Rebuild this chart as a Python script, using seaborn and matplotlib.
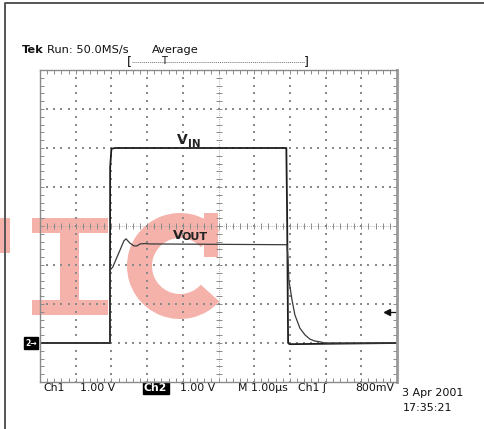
import numpy as np
import pandas as pd
import matplotlib
matplotlib.use("Agg")
import matplotlib.pyplot as plt
from matplotlib.patches import Rectangle, Wedge
import seaborn as sns

# ---------------- data (time in µs / divisions, volts) ----------------
vin_t = [0.0, 1.96, 1.965, 2.0, 2.1, 6.90, 6.92, 6.95, 6.99, 10.0]
vin_v = [0.0, 0.0, 4.5, 4.98, 5.0, 5.0, 3.5, 0.0, -0.03, 0.0]

vout_t = [0.0, 1.96, 1.965, 2.04, 2.10, 2.24, 2.35, 2.41, 2.52, 2.63, 2.72,
          2.80, 2.94, 3.08, 5.0, 6.92, 6.95, 6.97, 7.06, 7.14, 7.28, 7.42,
          7.56, 7.70, 7.84, 7.98, 10.0]
vout_v = [0.0, 0.0, 1.87, 1.95, 2.08, 2.38, 2.62, 2.67, 2.56, 2.49, 2.49,
          2.54, 2.55, 2.54, 2.53, 2.52, 2.10, 1.62, 1.10, 0.72, 0.38, 0.21,
          0.10, 0.05, 0.03, 0.0, 0.0]

ground_div = 1.0          # channel ground marker position (divisions)
trigger_level_v = 0.8     # Ch1 trigger level, volts (1 V/div)

header_labels = ["Tek", "Run: 50.0MS/s", "Average"]
footer_labels = ["Ch1", "1.00 V", "Ch2", "1.00 V", "M 1.00µs", "Ch1 \u0283", "800mV"]
date_labels = ["3 Apr 2001", "17:35:21"]

# ---------------- figure ----------------
sns.set_theme(style="white")
plt.rcParams["font.family"] = ["DejaVu Sans"]
W, H = 484, 429
fig = plt.figure(figsize=(W / 100, H / 100), dpi=100)

# background overlay in pixel coords
bg = fig.add_axes([0, 0, 1, 1], zorder=0)
bg.set_xlim(0, W)
bg.set_ylim(H, 0)
bg.axis("off")

# watermark
wm = "#F5B2AA"
for (x0, y0, w, h) in [(0, 218, 10, 35), (32, 218, 76, 15), (60, 218, 19, 97), (32, 300, 76, 15)]:
    bg.add_patch(Rectangle((x0, y0), w, h, color=wm, lw=0))
bg.add_patch(Wedge((180, 266), 53, 42, 318, width=25, color=wm, lw=0))
bg.add_patch(Rectangle((204, 213), 14, 44, color=wm, lw=0))

# outer frame
bg.plot([5, 5, W], [H, 3, 3], color="#555555", lw=1.4, solid_capstyle="butt")

# main graticule axes
left, right, top, bottom = 40, 397, 70, 382
ax = fig.add_axes([left / W, 1 - bottom / H, (right - left) / W, (bottom - top) / H], zorder=1)
ax.set_facecolor("none")
ax.set_xlim(0, 10)
ax.set_ylim(0, 8)

gcol = "#8a8a8a"
# dotted grid
sub = np.arange(0, 10.001, 0.2)
subv = np.arange(0, 8.001, 0.2)
for xv in range(1, 10):
    if xv == 5:
        continue
    ax.scatter(np.full_like(subv, xv), subv, s=1.0, marker="s", color=gcol, lw=0)
for yv in range(1, 8):
    if yv == 4:
        continue
    ax.scatter(sub, np.full_like(sub, yv), s=1.0, marker="s", color=gcol, lw=0)
# centre cross
ax.axvline(5, color="#a0a0a0", lw=0.6, ls=(0, (1, 1.5)))
ax.axhline(4, color="#a0a0a0", lw=0.6, ls=(0, (1, 1.5)))
ax.plot(np.full_like(subv, 5), subv, ls="none", marker="_", ms=5, mew=0.7, color=gcol)
ax.plot(sub, np.full_like(sub, 4), ls="none", marker="|", ms=5, mew=0.7, color=gcol)

# edges
for s in ["left", "top", "bottom"]:
    ax.spines[s].set_color(gcol)
    ax.spines[s].set_linewidth(1.0)
ax.spines["right"].set_color("#999999")
ax.spines["right"].set_linewidth(2.0)
ax.set_xticks(np.arange(0, 10.001, 1))
ax.set_yticks(np.arange(0, 8.001, 1))
ax.set_xticks(sub, minor=True)
ax.set_yticks(subv, minor=True)
ax.tick_params(which="both", direction="in", length=3, width=0.7, color=gcol,
               top=True, right=True, bottom=True, left=True,
               labelbottom=False, labelleft=False)

# traces
df_in = pd.DataFrame({"t": vin_t, "y": np.array(vin_v) + ground_div})
df_out = pd.DataFrame({"t": vout_t, "y": np.array(vout_v) + ground_div})
sns.lineplot(data=df_in, x="t", y="y", ax=ax, estimator=None, sort=False,
             color="#1e1e1e", lw=1.3)
sns.lineplot(data=df_out, x="t", y="y", ax=ax, estimator=None, sort=False,
             color="#3a3a3a", lw=0.9)
ax.set_xlabel("")
ax.set_ylabel("")

# trigger arrow at right edge
ax.plot([9.72], [ground_div + trigger_level_v], marker="<", ms=5, color="#111111", clip_on=False)
ax.plot([9.75, 10.0], [ground_div + trigger_level_v] * 2, color="#111111", lw=0.9)

# ground marker "2"
gy = bottom - ground_div * (bottom - top) / 8
bg.text(31, gy, "2\u2192", color="white", fontsize=5.5, ha="center", va="center",
        fontweight="bold",
        bbox=dict(boxstyle="square,pad=0.15", fc="black", ec="black"))

# trace labels
bg.text(177, 144, "V", fontsize=10, fontweight="bold", color="#222222", ha="left", va="baseline")
bg.text(188, 147, "IN", fontsize=7.5, fontweight="bold", color="#222222", ha="left", va="baseline")
bg.text(173, 239, "V", fontsize=9.5, fontweight="bold", color="#222222", ha="left", va="baseline")
bg.text(182, 240, "OUT", fontsize=8, fontweight="bold", color="#222222", ha="left", va="baseline")

# header
bg.text(22, 53, header_labels[0], fontsize=8.2, fontweight="bold", color="#111111", va="baseline")
bg.text(47, 53, header_labels[1], fontsize=8.2, color="#111111", va="baseline")
bg.text(152, 53, header_labels[2], fontsize=8.2, color="#111111", va="baseline")
bg.text(127, 62, "[", fontsize=9, color="#111111", va="center", ha="left")
bg.text(309, 62, "]", fontsize=9, color="#111111", va="center", ha="right")
bg.plot([132, 305], [62, 62], color="#777777", lw=0.7, ls=(0, (1, 1)))
bg.text(164, 61, "T", fontsize=7, color="#111111", va="center", ha="center")

# footer
fx = [43, 80, 144, 180, 238, 298, 355]
for i, (x, lab) in enumerate(zip(fx, footer_labels)):
    if lab == "Ch2":
        bg.text(x, 391, lab, fontsize=7.8, color="white", fontweight="bold", va="baseline",
                bbox=dict(boxstyle="square,pad=0.12", fc="black", ec="black"))
    else:
        bg.text(x, 391, lab, fontsize=7.8, color="#111111", va="baseline")
bg.text(402, 396, date_labels[0], fontsize=8, color="#111111", va="baseline")
bg.text(403, 411, date_labels[1], fontsize=8, color="#111111", va="baseline")

fig.savefig("out.png", dpi=100, facecolor="white")
